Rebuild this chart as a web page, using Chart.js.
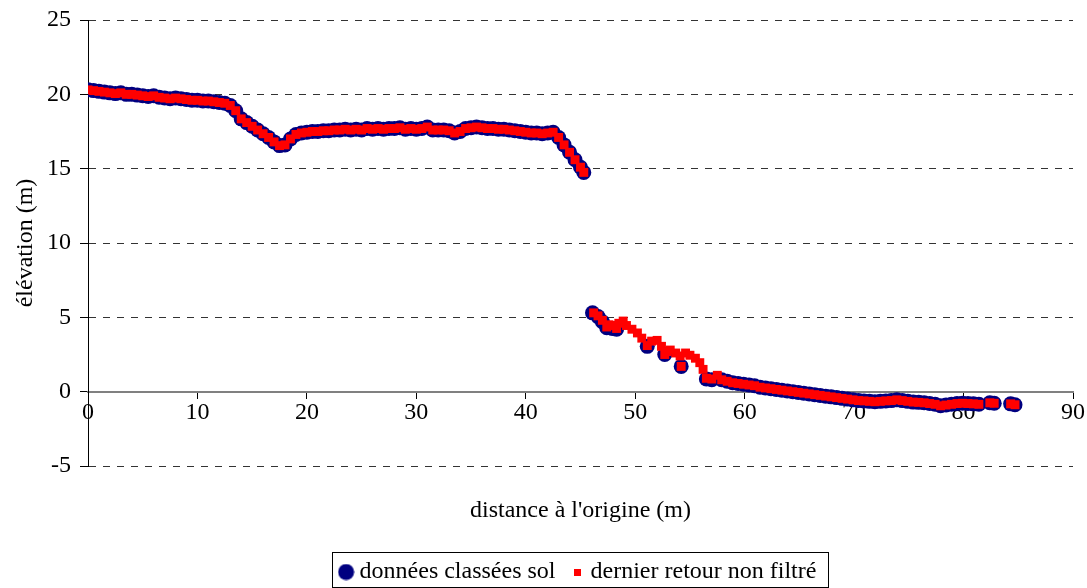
<!DOCTYPE html>
<html lang="fr">
<head>
<meta charset="utf-8">
<title>Profil</title>
<script src="https://cdn.jsdelivr.net/npm/chart.js@4/dist/chart.umd.min.js"></script>
<style>
  html, body { margin: 0; padding: 0; background: #fff; }
  #profil { display: block; }
</style>
</head>
<body>
<canvas id="profil" width="1087" height="588"></canvas>
<script>
// ---------------- DONNÉES ----------------
// tronçon 1 : commun aux deux séries
const distTroncon1 = [0, 0.5, 1, 1.5, 2, 2.5, 3, 3.5, 4, 4.5, 5, 5.5, 6, 6.5, 7, 7.5, 8, 8.5, 9, 9.5,
  10, 10.5, 11, 11.5, 12, 12.5, 13, 13.5, 14, 14.5, 15, 15.5, 16, 16.5, 17, 17.5, 18, 18.5, 19, 19.5,
  20, 20.5, 21, 21.5, 22, 22.5, 23, 23.5, 24, 24.5, 25, 25.5, 26, 26.5, 27, 27.5, 28, 28.5, 29, 29.5,
  30, 30.5, 31, 31.5, 32, 32.5, 33, 33.5, 34, 34.5, 35, 35.5, 36, 36.5, 37, 37.5, 38, 38.5, 39, 39.5,
  40, 40.5, 41, 41.5, 42, 42.5, 43, 43.5, 44, 44.5, 45, 45.3];
const elevTroncon1 = [20.3, 20.25, 20.2, 20.15, 20.1, 20.05, 20.1, 20.0, 20.0, 19.95, 19.9, 19.85, 19.9, 19.8, 19.75, 19.7, 19.75, 19.7, 19.65, 19.6,
  19.6, 19.55, 19.55, 19.5, 19.45, 19.4, 19.25, 18.9, 18.35, 18.1, 17.85, 17.6, 17.35, 17.1, 16.8, 16.55, 16.6, 17.0, 17.3, 17.4,
  17.45, 17.5, 17.5, 17.55, 17.55, 17.6, 17.6, 17.65, 17.6, 17.65, 17.6, 17.7, 17.65, 17.7, 17.65, 17.7, 17.7, 17.75, 17.65, 17.7,
  17.65, 17.7, 17.8, 17.6, 17.6, 17.6, 17.55, 17.4, 17.5, 17.7, 17.75, 17.8, 17.75, 17.7, 17.7, 17.65, 17.65, 17.6, 17.55, 17.5,
  17.45, 17.4, 17.4, 17.35, 17.4, 17.45, 17.1, 16.6, 16.1, 15.6, 15.1, 14.75];

// tronçon 2 : points classés sol
const distSolTroncon2 = [46.1, 46.6, 47.0, 47.4, 47.9, 48.3, 51.1, 52.7, 54.2, 56.5, 57.0];
const elevSolTroncon2 = [5.3, 5.05, 4.7, 4.3, 4.25, 4.2, 3.05, 2.5, 1.7, 0.85, 0.8];

// tronçon 2 : dernier retour brut
const distBrutTroncon2 = [46.2, 46.6, 47.0, 47.4, 47.6, 48.0, 48.3, 48.5, 48.9, 49.2, 49.7, 50.2, 50.6, 51.1, 51.5, 52.0,
  52.4, 52.7, 52.9, 53.2, 53.7, 54.1, 54.2, 54.6, 55.0, 55.5, 55.9, 56.2, 56.5, 57.0, 57.5];
const elevBrutTroncon2 = [5.3, 5.1, 4.8, 4.35, 4.5, 4.45, 4.25, 4.6, 4.75, 4.45, 4.2, 3.95, 3.6, 3.1, 3.4, 3.45,
  3.05, 2.5, 2.7, 2.8, 2.6, 2.4, 1.7, 2.6, 2.45, 2.25, 1.95, 1.5, 0.9, 0.85, 1.1];

// tronçon 3 : commun aux deux séries
const distTroncon3 = [57.9, 58.4, 58.9, 59.4, 59.9, 60.4, 60.9, 61.4, 61.9, 62.4, 62.9, 63.4, 63.9, 64.4, 64.9, 65.4, 65.9,
  66.4, 66.9, 67.4, 67.9, 68.4, 68.9, 69.4, 69.9, 70.4, 70.9, 71.4, 71.9, 72.4, 72.9, 73.4, 73.9, 74.4, 74.9,
  75.4, 75.9, 76.4, 76.9, 77.4, 77.9, 78.4, 78.9, 79.4, 79.9, 80.4, 80.9, 81.4, 82.4, 82.8, 84.3, 84.7];
const elevTroncon3 = [0.8, 0.7, 0.6, 0.55, 0.5, 0.45, 0.4, 0.3, 0.25, 0.2, 0.15, 0.1, 0.05, 0.0, -0.05, -0.1, -0.15,
  -0.2, -0.25, -0.3, -0.35, -0.4, -0.45, -0.5, -0.55, -0.6, -0.62, -0.65, -0.68, -0.65, -0.62, -0.6, -0.55, -0.6, -0.65,
  -0.7, -0.72, -0.75, -0.8, -0.85, -0.95, -0.9, -0.85, -0.8, -0.78, -0.8, -0.82, -0.85, -0.75, -0.78, -0.82, -0.88];

const nomsSeries = ["données classées sol", "dernier retour non filtré"];
const bornesX = [0, 90];
const bornesY = [-5, 25];

function points(dist, elev) {
  return dist.map((x, i) => ({ x: x, y: elev[i] }));
}

const pointsSol = points(distTroncon1, elevTroncon1)
  .concat(points(distSolTroncon2, elevSolTroncon2))
  .concat(points(distTroncon3, elevTroncon3));

const pointsBrut = points(distTroncon1, elevTroncon1)
  .concat(points(distBrutTroncon2, elevBrutTroncon2))
  .concat(points(distTroncon3, elevTroncon3));

// ---------------- MARQUES DE LA LÉGENDE ----------------
function marque(taille, dessin) {
  const c = document.createElement("canvas");
  c.width = taille;
  c.height = taille;
  dessin(c.getContext("2d"));
  return c;
}

const rondLegende = marque(17, g => {
  g.fillStyle = "#000080";
  g.beginPath();
  g.arc(8.5, 8.5, 8, 0, Math.PI * 2);
  g.fill();
});

const carreLegende = marque(7, g => {
  g.fillStyle = "#ff0000";
  g.fillRect(0, 0, 7, 7);
});

// cadre autour de la légende
const cadreLegende = {
  id: "cadreLegende",
  afterDraw(chart) {
    const boites = chart.legend && chart.legend.legendHitBoxes;
    if (!boites || !boites.length) return;
    const premiere = boites[0];
    const derniere = boites[boites.length - 1];
    const milieu = premiere.top + premiere.height / 2;
    const g = chart.ctx;
    const x1 = Math.round(premiere.left - 13) + 0.5;
    const x2 = Math.round(derniere.left + derniere.width + 12) + 0.5;
    const y1 = Math.round(milieu - 20) + 0.5;
    const y2 = Math.round(milieu + 15) + 0.5;
    g.save();
    g.strokeStyle = "#000";
    g.lineWidth = 1;
    g.strokeRect(x1, y1, x2 - x1, y2 - y1);
    g.restore();
  }
};

// ---------------- GRAPHIQUE ----------------
Chart.defaults.font.family = "'Liberation Serif', 'Times New Roman', serif";
Chart.defaults.font.size = 24;
Chart.defaults.color = "#000";

new Chart(
  document.getElementById("profil"),
  {
    type: "scatter",

    data: {
      datasets: [
        {
          label: nomsSeries[0],
          data: pointsSol,
          pointStyle: "circle",
          pointRadius: 7.5,
          pointHoverRadius: 7.5,
          borderWidth: 0,
          backgroundColor: "#000080",
          borderColor: "#000080",
          order: 2
        },
        {
          label: nomsSeries[1],
          data: pointsBrut,
          pointStyle: "rect",
          pointRadius: 6.3,
          pointHoverRadius: 6.3,
          borderWidth: 0,
          backgroundColor: "#ff0000",
          borderColor: "#ff0000",
          order: 1
        }
      ]
    },

    options: {
      responsive: false,
      animation: false,

      layout: {
        padding: { top: 20, right: 14, bottom: -6, left: 0 }
      },

      scales: {
        // axe des distances, croisé à y = 0 (ligne et graduations sous les points)
        x: {
          type: "linear",
          position: { y: 0 },
          min: bornesX[0],
          max: bornesX[1],
          ticks: { stepSize: 10, padding: -3, maxRotation: 0, color: "rgba(0,0,0,0)" },
          grid: {
            drawOnChartArea: false,
            drawTicks: true,
            tickLength: 6,
            color: "#000"
          },
          border: { color: "#808080", width: 2 }
        },

        // étiquettes des distances, dessinées par-dessus les points
        xEtiquettes: {
          type: "linear",
          position: { y: 0 },
          z: 1,
          min: bornesX[0],
          max: bornesX[1],
          ticks: { stepSize: 10, padding: -1, maxRotation: 0 },
          grid: { display: false },
          border: { display: false }
        },

        // axe porteur du titre, sous le graphique
        xTitre: {
          type: "linear",
          position: "bottom",
          min: bornesX[0],
          max: bornesX[1],
          ticks: { display: false },
          grid: { display: false },
          border: { display: false },
          title: {
            display: true,
            text: "distance à l'origine (m)",
            padding: { top: 0, bottom: 15 }
          },
          afterFit(scale) { scale.height = 74; }
        },

        y: {
          type: "linear",
          position: "left",
          min: bornesY[0],
          max: bornesY[1],
          ticks: { stepSize: 5, padding: 9 },
          grid: {
            color: "#333",
            tickColor: "#000",
            tickLength: 8,
            tickBorderDash: []
          },
          border: { color: "#000", width: 1, dash: [7, 7] },
          title: {
            display: true,
            text: "élévation (m)",
            padding: { top: 11, bottom: 0 }
          },
          afterFit(scale) {
            scale.width = 88;
            scale.paddingTop = 0;
            scale.paddingBottom = 0;
          }
        }
      },

      plugins: {
        legend: {
          position: "bottom",
          fullSize: false,
          labels: {
            usePointStyle: true,
            boxWidth: 3,
            boxHeight: 3,
            padding: 20,
            sort: (a, b) => a.datasetIndex - b.datasetIndex,
            generateLabels(chart) {
              const items = Chart.defaults.plugins.legend.labels.generateLabels(chart);
              items.forEach(it => {
                it.pointStyle = it.datasetIndex === 0 ? rondLegende : carreLegende;
              });
              return items;
            }
          }
        },
        tooltip: { enabled: false }
      }
    },

    plugins: [cadreLegende]
  }
);
</script>
</body>
</html>
